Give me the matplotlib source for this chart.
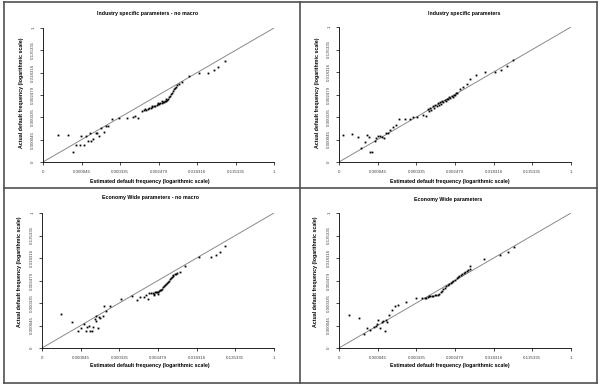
import numpy as np
import matplotlib
matplotlib.use("Agg")
import matplotlib.pyplot as plt
from matplotlib.lines import Line2D

plt.rcParams['font.family'] = ['Liberation Sans', 'DejaVu Sans']

# axis ticks sit at ln(freq) = -12, -10, ..., 0
tick_ln = [-12, -10, -8, -6, -4, -2, 0]
tick_labels = ['0', '0.000045', '0.000335', '0.002479', '0.018316', '0.135335', '1']

titles = ["Industry specific parameters - no macro",
          "Industry specific parameters",
          "Economy Wide parameters - no macro",
          "Economy Wide parameters"]

# values read as ln(frequency): estimated (x) and actual (y)
tl_est = [-11.22, -10.70, -10.44, -10.27, -10.09, -10.01, -9.88, -9.78, -9.66, -9.57,
          -9.49, -9.40, -9.26, -9.17, -9.09, -8.97, -8.84, -8.74, -8.62, -8.39,
          -8.05, -7.66, -7.35, -7.23, -7.06,
          -6.85, -6.75, -6.65, -6.55, -6.48, -6.40, -6.32, -6.25, -6.18, -6.10,
          -6.03, -5.96, -5.90, -5.84, -5.78, -5.72, -5.66, -5.60, -5.55, -5.50,
          -5.45, -5.40, -5.35, -5.30, -5.25, -5.20, -5.14, -5.08, -5.02, -4.96,
          -6.70, -6.35, -6.05, -5.80, -5.62,
          -4.80, -4.40, -3.88, -3.42, -3.12, -2.90, -2.55]
tl_act = [-9.62, -9.62, -11.14, -10.46, -10.46, -9.71, -10.46, -9.71, -10.16, -9.42,
          -10.16, -9.95, -9.42, -9.36, -9.71, -8.97, -9.27, -8.82, -8.76, -8.17,
          -8.08, -8.02, -7.99, -7.87, -8.08,
          -7.45, -7.38, -7.30, -7.25, -7.18, -7.12, -7.08, -7.00, -6.95, -6.90,
          -6.85, -6.80, -6.75, -6.70, -6.66, -6.62, -6.56, -6.50, -6.45, -6.35,
          -6.22, -6.10, -5.95, -5.80, -5.65, -5.50, -5.38, -5.25, -5.12, -5.00,
          -7.22, -6.98, -6.72, -6.58, -6.40,
          -4.81, -4.31, -4.01, -4.01, -3.77, -3.48, -2.94]

tr_est = [-11.79, -11.31, -11.02, -10.84, -10.67, -10.55, -10.45, -10.38, -10.27, -10.15,
          -10.07, -9.98, -9.86, -9.76, -9.69, -9.58, -9.46, -9.34, -9.20, -9.06,
          -8.89, -8.60, -8.34, -8.17, -7.99, -7.65, -7.48,
          -7.40, -7.34, -7.28, -7.22, -7.15, -7.08, -7.02, -6.95, -6.90, -6.84,
          -6.78, -6.72, -6.66, -6.60, -6.54, -6.48, -6.42, -6.36, -6.30, -6.24,
          -6.18, -6.12, -6.06, -6.00, -5.94, -5.88,
          -5.75, -5.58, -5.40, -5.23, -4.92, -4.46, -3.94, -3.64, -3.33, -2.99]
tr_act = [-9.62, -9.48, -9.80, -10.75, -10.25, -9.62, -9.80, -11.14, -11.14, -10.16,
          -9.86, -9.71, -9.65, -9.77, -9.86, -9.42, -9.42, -9.12, -8.88, -8.67,
          -8.17, -8.17, -8.17, -7.99, -7.99, -7.78, -7.93,
          -7.30, -7.45, -7.20, -7.35, -7.05, -7.20, -6.92, -7.05, -6.80, -6.92,
          -6.70, -6.82, -6.60, -6.65, -6.48, -6.55, -6.36, -6.42, -6.25, -6.30,
          -6.12, -6.18, -6.00, -6.02, -5.88, -5.85,
          -5.50, -5.32, -5.11, -4.66, -4.31, -4.01, -4.01, -3.83, -3.48, -2.94]

bl_est = [-11.00, -10.43, -10.14, -9.96, -9.84, -9.74, -9.67, -9.57, -9.50, -9.39,
          -9.36, -9.27, -9.22, -9.19, -9.10, -9.05, -8.98, -8.87, -8.81, -8.67,
          -8.46, -7.89, -7.32, -7.08, -6.91, -6.73, -6.63, -6.51, -6.45,
          -6.35, -6.28, -6.22, -6.16, -6.10, -6.05, -6.00, -5.95, -5.90, -5.85,
          -5.80, -5.75, -5.70, -5.65, -5.60, -5.55, -5.50, -5.45, -5.40, -5.35,
          -5.30, -5.25, -5.20, -5.14, -5.08, -5.02,
          -6.20, -6.02, -4.87, -4.61, -3.87, -3.28, -3.00, -2.80, -2.54]
bl_act = [-8.98, -9.72, -10.46, -10.25, -9.87, -10.46, -10.16, -10.01, -10.46, -10.46,
          -10.16, -9.42, -9.57, -9.19, -10.25, -9.27, -9.36, -9.19, -8.30, -8.68,
          -8.24, -7.64, -7.41, -7.70, -7.50, -7.50, -7.29, -7.64, -7.11,
          -7.12, -7.08, -7.16, -7.06, -7.05, -7.02, -6.98, -6.94, -6.88, -6.80,
          -6.72, -6.62, -6.52, -6.42, -6.32, -6.22, -6.10, -6.00, -5.90, -5.80,
          -5.70, -5.62, -5.52, -5.45, -5.38, -5.32,
          -7.29, -7.22, -5.27, -4.74, -3.94, -3.94, -3.73, -3.44, -2.96]

br_est = [-11.46, -10.95, -10.71, -10.53, -10.39, -10.19, -10.08, -10.01, -9.96, -9.88,
          -9.79, -9.70, -9.62, -9.57, -9.50, -9.39, -9.27, -9.10, -8.93, -8.53,
          -8.01, -7.72, -7.55,
          -7.50, -7.42, -7.35, -7.28, -7.20, -7.12, -7.05, -6.98, -6.90, -6.82,
          -6.75, -6.68, -6.60, -6.52, -6.45, -6.38, -6.30, -6.22, -6.15, -6.08,
          -6.00, -5.92, -5.85, -5.78, -5.70, -5.62, -5.55, -5.48, -5.40, -5.32,
          -5.25, -5.21, -4.52, -3.66, -3.28, -2.97]
br_act = [-9.07, -9.36, -10.76, -10.25, -10.37, -10.16, -10.01, -9.87, -9.48, -10.25,
          -9.66, -9.57, -10.46, -9.48, -9.72, -9.07, -8.59, -8.30, -8.18, -7.94,
          -7.59, -7.59, -7.59,
          -7.55, -7.50, -7.40, -7.38, -7.36, -7.34, -7.32, -7.30, -7.28, -7.20,
          -7.05, -6.92, -6.78, -6.65, -6.52, -6.42, -6.32, -6.22, -6.12, -6.02,
          -5.92, -5.82, -5.72, -5.64, -5.55, -5.45, -5.35, -5.25, -5.15, -5.05,
          -4.95, -4.74, -4.09, -3.73, -3.50, -3.05]

fig = plt.figure(figsize=(6, 3.84), dpi=100)
W, H = 600.0, 384.0


def px_box(left, top, right, bottom):
    return [left / W, 1 - bottom / H, (right - left) / W, (bottom - top) / H]


panels = [
    (px_box(43, 28, 274, 162), tl_est, tl_act, titles[0], (148, 14), (150, 181), (21, 93)),
    (px_box(339, 27, 571, 162), tr_est, tr_act, titles[1], (464, 14), (450, 181), (317, 93)),
    (px_box(42, 213, 274, 348), bl_est, bl_act, titles[2], (150, 198), (150, 365), (20, 272)),
    (px_box(339, 213, 571, 348), br_est, br_act, titles[3], (448, 199), (450, 366), (316, 272)),
]

lo, hi = np.exp(-12), np.exp(0)
for box, est, act, title, tpos, xpos, ypos in panels:
    ax = fig.add_axes(box)
    ax.set_xscale('log')
    ax.set_yscale('log')
    ax.plot([lo, hi], [lo, hi], color='#8a8a8a', lw=0.7, zorder=1)
    ax.plot(np.exp(est), np.exp(act), 's', ms=1.3, mew=0, color='black', zorder=2)
    ax.set_xlim(lo, hi)
    ax.set_ylim(lo, hi)
    ax.minorticks_off()
    ax.set_xticks(np.exp(tick_ln))
    ax.set_xticklabels(tick_labels)
    ax.set_yticks(np.exp(tick_ln))
    ax.set_yticklabels(tick_labels, rotation=90, va='center')
    ax.tick_params(labelsize=3.2, length=2.5, width=0.5, pad=3, colors='black',
                   labelcolor='#444444')
    for side in ['top', 'right']:
        ax.spines[side].set_visible(False)
    for side in ['left', 'bottom']:
        ax.spines[side].set_linewidth(0.6)
    fig.text(tpos[0] / W, 1 - tpos[1] / H, title, ha='center', va='center',
             fontsize=3.8, fontweight='bold')
    fig.text(xpos[0] / W, 1 - xpos[1] / H, "Estimated default frequency (logarithmic scale)",
             ha='center', va='center', fontsize=3.8, fontweight='bold')
    fig.text(ypos[0] / W, 1 - ypos[1] / H, "Actual default frequency (logarithmic scale)",
             ha='center', va='center', rotation=90, fontsize=3.8, fontweight='bold')

# panel frame lines
frame = '#505050'
for xs, ys in [([4, 597], [2, 2]), ([4, 597], [383, 383]), ([4, 597], [188, 188]),
               ([4, 4], [2, 383]), ([597, 597], [2, 383]), ([300, 300], [2, 383])]:
    fig.add_artist(Line2D([x / W for x in xs], [1 - y / H for y in ys],
                          color=frame, lw=1.2))

fig.savefig("out.png", dpi=100)
